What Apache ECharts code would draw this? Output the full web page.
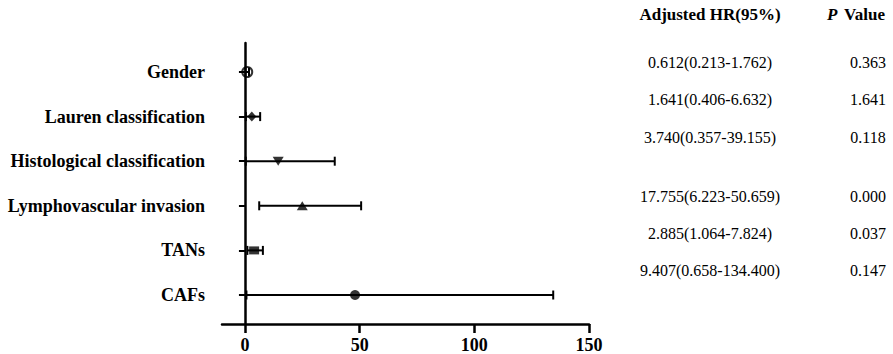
<!DOCTYPE html>
<html>
<head>
<meta charset="utf-8">
<script src="https://cdn.jsdelivr.net/npm/echarts@6/dist/echarts.min.js"></script>
<style>
html,body{margin:0;padding:0;background:#fff;}
#chart{width:893px;height:354px;}
</style>
</head>
<body>
<div id="chart"></div>
<script>
const categories = ['Gender', 'Lauren classification', 'Histological classification', 'Lymphovascular invasion', 'TANs', 'CAFs'];
const pointEst = [1.0, 3.0, 14.5, 25.0, 4.0, 48.0];
const ciLower = [0.213, 0.406, 0.357, 6.223, 1.064, 0.658];
const ciUpper = [1.762, 6.632, 39.155, 50.659, 7.824, 134.4];
const hrText = ['0.612(0.213-1.762)', '1.641(0.406-6.632)', '3.740(0.357-39.155)', '17.755(6.223-50.659)', '2.885(1.064-7.824)', '9.407(0.658-134.400)'];
const pText = ['0.363', '1.641', '0.118', '0.000', '0.037', '0.147'];
const xTicks = [0, 50, 100, 150];
const rowPos = [1, 2, 3, 4, 5, 6];

const FONT = "Liberation Serif";
const markerStyles = [
  {symbol: 'circle', symbolSize: 10, itemStyle: {color: 'rgba(0,0,0,0)', borderColor: '#000', borderWidth: 2}},
  {symbol: 'diamond', symbolSize: [9, 10], itemStyle: {color: '#000'}},
  {symbol: 'triangle', symbolSize: [11, 9], symbolRotate: 180, itemStyle: {color: '#000'}},
  {symbol: 'triangle', symbolSize: [11, 9], itemStyle: {color: '#000'}},
  {symbol: 'rect', symbolSize: [10, 8], itemStyle: {color: '#000'}},
  {symbol: 'circle', symbolSize: 10, itemStyle: {color: '#000'}}
];

const scatterData = pointEst.map((v, i) => Object.assign({value: [v, rowPos[i]]}, markerStyles[i]));
const ciData = ciLower.map((lo, i) => [lo, ciUpper[i], rowPos[i]]);

const chart = echarts.init(document.getElementById('chart'), null, {renderer: 'svg'});

const tableRowsY = [62, 99, 137, 196, 233, 270];
function txt(x, y, text, size, weight) {
  return {type: 'text', x: x, y: y, style: {text: text, fontFamily: FONT, fontSize: size, fontWeight: weight, fill: '#000', textAlign: 'center', textVerticalAlign: 'middle'}};
}
const graphics = [
  txt(710, 14, 'Adjusted HR(95%)', 17, 'bold'),
  {type: 'text', x: 856, y: 14, style: {text: '{i|P}  {b|Value}', textAlign: 'center', textVerticalAlign: 'middle', fill: '#000',
    rich: {i: {fontFamily: FONT, fontSize: 17, fontWeight: 'bold', fontStyle: 'italic', fill: '#000'}, b: {fontFamily: FONT, fontSize: 17, fontWeight: 'bold', fill: '#000'}}}}
];
hrText.forEach((t, i) => {
  graphics.push(txt(710, tableRowsY[i], t, 16, 'normal'));
  graphics.push(txt(868, tableRowsY[i], pText[i], 16, 'normal'));
});

chart.setOption({
  animation: false,
  backgroundColor: '#fff',
  grid: {left: 222, width: 367, top: 43, height: 281, containLabel: false, outerBoundsMode: 'none'},
  xAxis: {
    type: 'value', min: -10, max: 150,
    splitLine: {show: false},
    axisLine: {show: true, onZero: false, lineStyle: {color: '#000', width: 2.5}},
    axisTick: {show: true, customValues: xTicks, length: 9, lineStyle: {color: '#000', width: 2.5}},
    axisLabel: {customValues: xTicks, color: '#000', fontFamily: FONT, fontWeight: 'bold', fontSize: 18, margin: 12}
  },
  yAxis: {
    type: 'value', inverse: true, min: 0.35, max: 6.65,
    splitLine: {show: false},
    axisLine: {show: true, onZero: true, lineStyle: {color: '#000', width: 2.5}},
    axisTick: {show: true, customValues: rowPos, length: 6, lineStyle: {color: '#000', width: 2}},
    axisLabel: {customValues: rowPos, formatter: v => categories[Math.round(v) - 1] || '', color: '#000', fontFamily: FONT, fontWeight: 'bold', fontSize: 18, margin: 17}
  },
  graphic: graphics,
  series: [
    {
      type: 'custom', z: 2,
      data: ciData,
      encode: {x: [0, 1], y: 2},
      renderItem: function (params, api) {
        const y = api.value(2);
        const p1 = api.coord([api.value(0), y]);
        const p2 = api.coord([api.value(1), y]);
        const h = 4.5;
        const st = {stroke: '#000', lineWidth: 2};
        return {
          type: 'group',
          children: [
            {type: 'line', shape: {x1: p1[0], y1: p1[1], x2: p2[0], y2: p2[1]}, style: st},
            {type: 'line', shape: {x1: p1[0], y1: p1[1] - h, x2: p1[0], y2: p1[1] + h}, style: st},
            {type: 'line', shape: {x1: p2[0], y1: p2[1] - h, x2: p2[0], y2: p2[1] + h}, style: st}
          ]
        };
      }
    },
    {
      type: 'scatter', z: 3,
      data: scatterData
    }
  ]
});
</script>
</body>
</html>
